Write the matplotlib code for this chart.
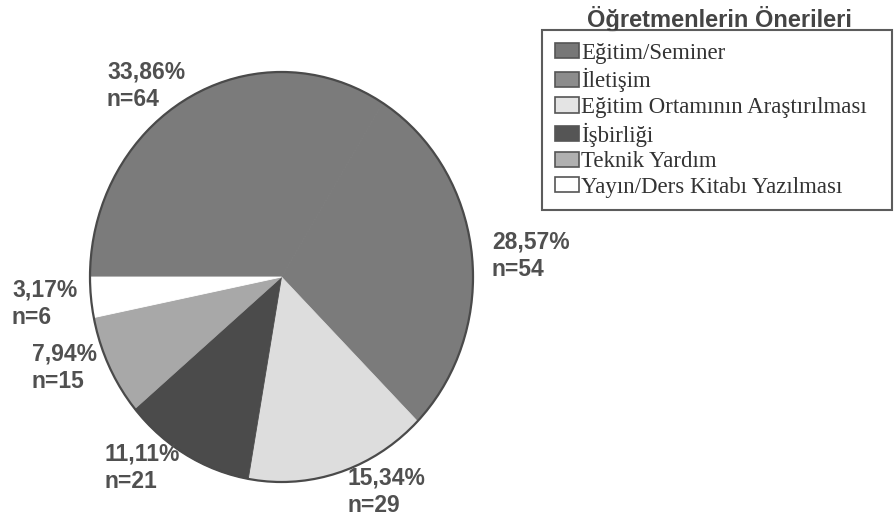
import matplotlib.pyplot as plt
from matplotlib.patches import Patch, Circle

categories = ['Eğitim/Seminer', 'İletişim', 'Eğitim Ortamının Araştırılması',
              'İşbirliği', 'Teknik Yardım', 'Yayın/Ders Kitabı Yazılması']
counts = [64, 54, 29, 21, 15, 6]
percents = ['33,86%', '28,57%', '15,34%', '11,11%', '7,94%', '3,17%']
colors = ['#7b7b7b', '#7b7b7b', '#dddddd', '#4b4b4b', '#a8a8a8', '#ffffff']
legend_colors = ['#777777', '#8c8c8c', '#e4e4e4', '#555555', '#b0b0b0', '#ffffff']

# label anchor positions (pixels, left/top of the two-line block)
label_px = [(107, 60), (492, 230), (348, 466), (105, 442), (32, 342), (12, 278)]

W, H = 895, 524
fig = plt.figure(figsize=(W / 100, H / 100), dpi=100)

# pie is slightly taller than wide in the scan
left, right, top, bottom = 90, 473, 72, 482
ax = fig.add_axes([left / W, 1 - bottom / H, (right - left) / W, (bottom - top) / H])
wedges, _ = ax.pie(counts, colors=colors, startangle=180, counterclock=False,
                   wedgeprops=dict(linewidth=0.6), radius=1)
for w, c in zip(wedges, colors):
    w.set_edgecolor(c)
    w.set_clip_on(False)
ax.set_aspect('auto')
ax.set_xlim(-1, 1)
ax.set_ylim(-1, 1)
ax.add_patch(Circle((0, 0), 1, fill=False, edgecolor='#4a4a4a', lw=1.6,
                    zorder=5, clip_on=False))
ax.axis('off')

for (px, py), pct, n in zip(label_px, percents, counts):
    fig.text(px / W, 1 - py / H, f'{pct}\nn={n}', ha='left', va='top',
             fontsize=16.5, fontweight='bold', color='#505050',
             family='Liberation Sans', linespacing=1.3)

# legend title sits above the frame
fig.text(719 / W, 1 - 19 / H, 'Öğretmenlerin Önerileri', ha='center', va='center',
         fontsize=17, fontweight='bold', color='#444444', family='Liberation Sans')

handles = [Patch(facecolor=c, edgecolor='#555555', linewidth=1.2) for c in legend_colors]
leg = fig.legend(handles, categories, loc='upper left',
                 bbox_to_anchor=(542 / W, 1 - 213 / H, 350 / W, 183 / H),
                 mode='expand', borderaxespad=0, fancybox=False, frameon=True,
                 prop={'family': 'Liberation Serif', 'size': 16.5},
                 handlelength=1.05, handleheight=0.65, handletextpad=0.1,
                 labelspacing=0.2, borderpad=0.55, labelcolor='#333333')
leg.get_frame().set_edgecolor('#333333')
leg.get_frame().set_linewidth(1.5)

fig.savefig('out.png', dpi=100)
